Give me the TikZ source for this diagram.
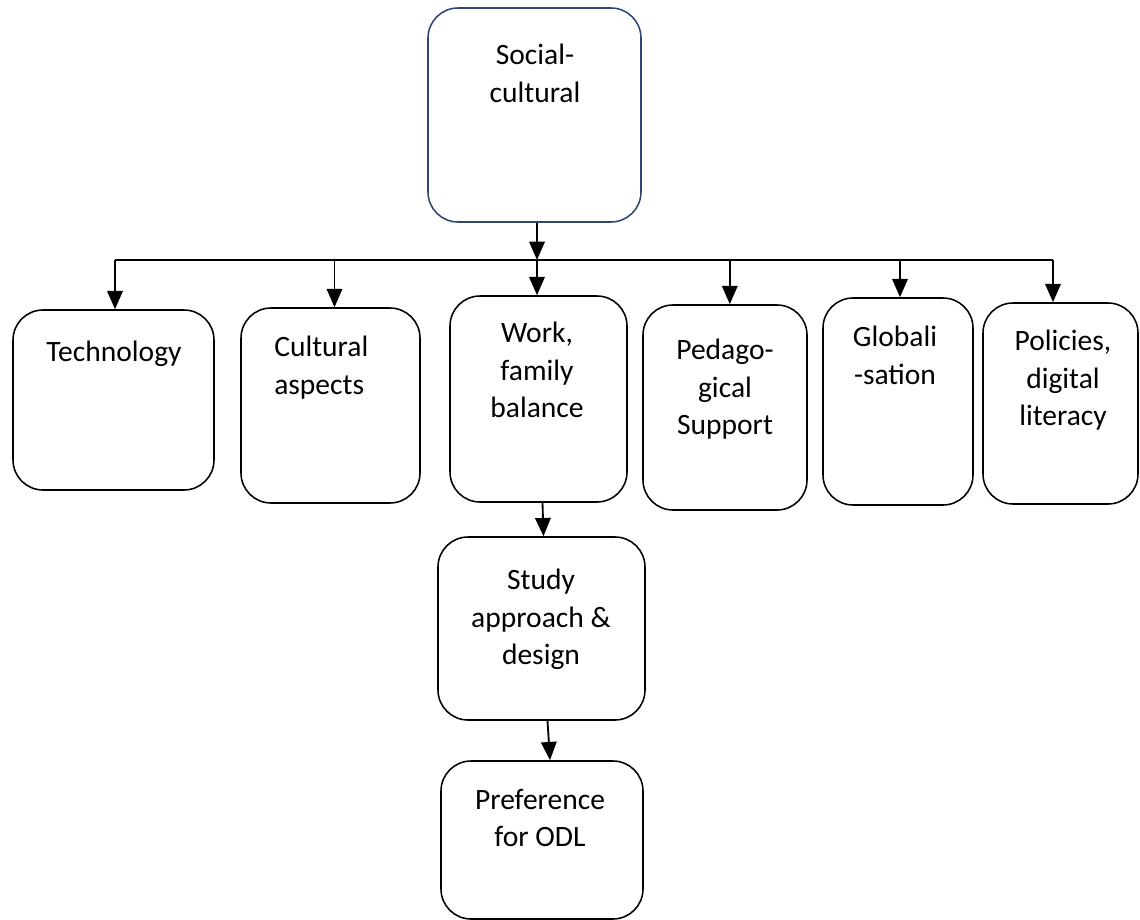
\documentclass[tikz,border=0pt]{standalone}
\usepackage{fontspec}
\setmainfont{Carlito}
\definecolor{boxblue}{RGB}{46, 70, 115}
\usetikzlibrary{shapes,arrows.meta}
\tikzstyle{block} = [rectangle, draw, line width=1.1pt, rounded corners=0.75cm, inner sep=0pt]
\tikzstyle{label_text} = [inner sep=0pt, anchor=north, align=center, font=\fontsize{21}{26.5}\selectfont]
\tikzstyle{line} = [draw, line width=1.3pt, -{Triangle[length=13pt,width=11pt]}]

\begin{document}
\begin{tikzpicture}[x=0.025cm, y=-0.025cm]
  \useasboundingbox (0,0) rectangle (1140,920);
  \node [block, draw=boxblue, minimum width=213*0.025cm, minimum height=214*0.025cm] (social) at (534.5,115) {};
  \node [label_text] (social_txt) at (535,44) {Social-\\cultural};
  \coordinate (hub) at (537,260);
  \coordinate (bar_left) at (115,260);
  \coordinate (bar_right) at (1053,260);
  \path [line] (social.south -| hub) -- (hub);
  \draw [line width=1.3pt] (bar_left) -- (bar_right);
  \node [block, minimum width=201*0.025cm, minimum height=180*0.025cm] (technology) at (113.5,400) {};
  \node [label_text] (technology_txt) at (114,341) {Technology};
  \node [block, minimum width=179*0.025cm, minimum height=195*0.025cm] (cultural) at (330.5,405.5) {};
  \node [label_text, anchor=north west, align=left] (cultural_txt) at (274,336) {Cultural\\aspects};
  \node [block, minimum width=177*0.025cm, minimum height=206*0.025cm] (work_family) at (538.5,399) {};
  \node [label_text] (work_family_txt) at (537,322) {Work,\\family\\balance};
  \node [block, minimum width=164*0.025cm, minimum height=205*0.025cm] (pedagogical) at (725,407.5) {};
  \node [label_text] (pedagogical_txt) at (725,339) {Pedago-\\gical\\Support};
  \node [block, minimum width=150*0.025cm, minimum height=207*0.025cm] (globalisation) at (898,401.5) {};
  \node [label_text] (globalisation_txt) at (895,326) {Globali\\-sation};
  \node [block, minimum width=155*0.025cm, minimum height=201*0.025cm] (policies) at (1060.5,403.5) {};
  \node [label_text] (policies_txt) at (1063,330) {Policies,\\digital\\literacy};
  \path [line] (bar_left) -- (bar_left |- technology.north);
  \path [line] ([xshift=0.1cm]bar_left -| cultural.north) -- ([xshift=0.1cm]cultural.north);
  \path [line] (hub) -- (hub |- work_family.north);
  \path [line] ([xshift=0.12cm]hub -| pedagogical.north) -- ([xshift=0.12cm]pedagogical.north);
  \path [line] ([xshift=0.05cm]hub -| globalisation.north) -- ([xshift=0.05cm]globalisation.north);
  \path [line] (bar_right) -- (bar_right |- policies.north);
  \node [block, minimum width=207*0.025cm, minimum height=183*0.025cm] (study_design) at (541.5,628.5) {};
  \node [label_text] (study_design_txt) at (541,569) {Study\\approach \&\\design};
  \node [block, minimum width=202*0.025cm, minimum height=158*0.025cm] (odl_preference) at (542,840) {};
  \node [label_text] (odl_preference_txt) at (540,789) {Preference\\for ODL};
  \path [line] ([xshift=0.1cm]work_family.south) -- ([xshift=0.05cm]study_design.north);
  \path [line] ([xshift=0.15cm]study_design.south) -- ([xshift=0.2cm]odl_preference.north);
\end{tikzpicture}
\end{document}
